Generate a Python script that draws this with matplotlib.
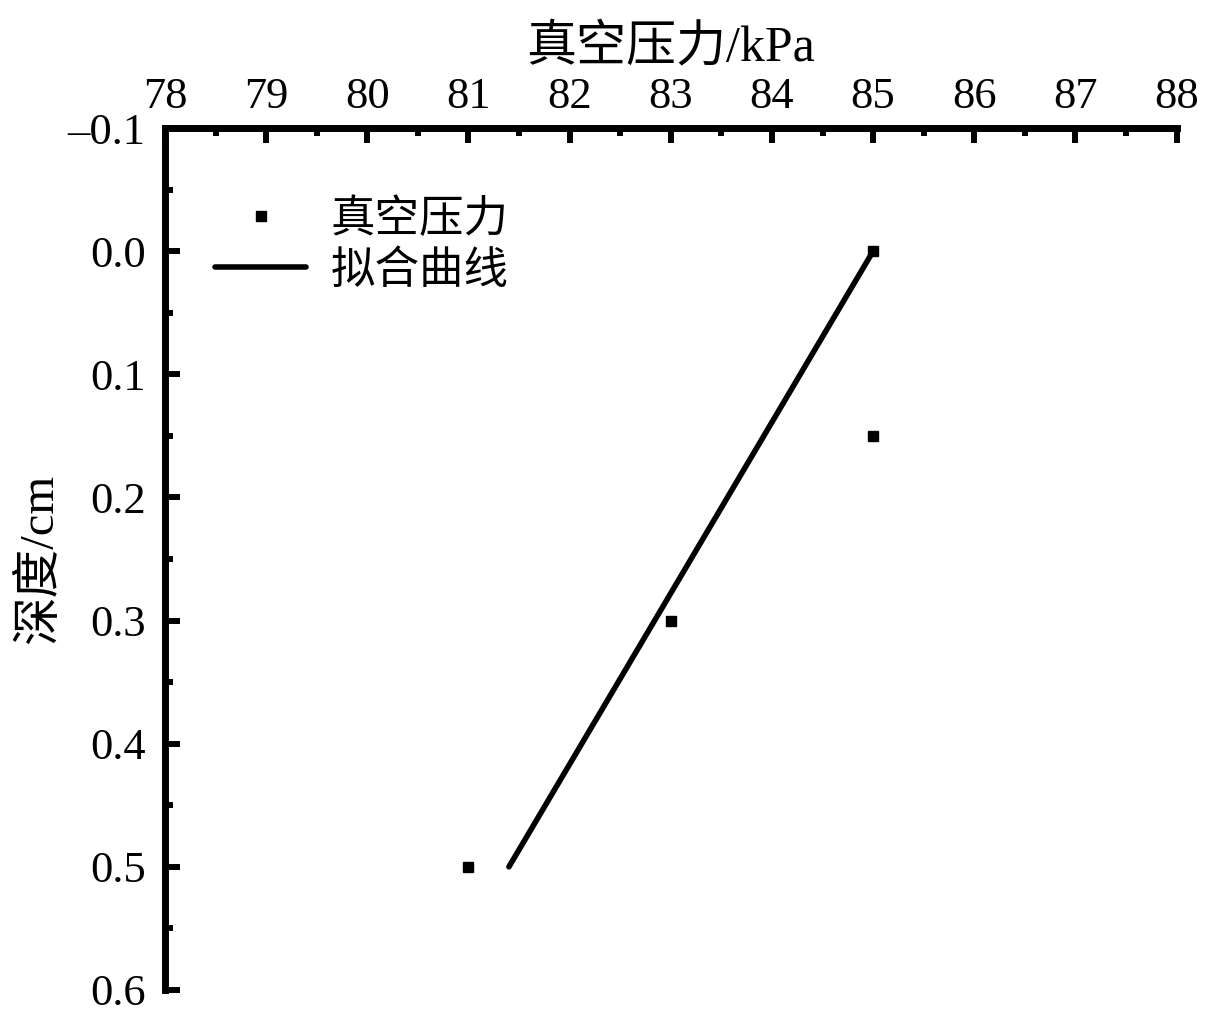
import numpy as np
import matplotlib
matplotlib.use("Agg")
import matplotlib.pyplot as plt
from matplotlib.ticker import MultipleLocator

plt.rcParams['font.family'] = ['Liberation Serif', 'Noto Sans CJK SC']
plt.rcParams['axes.unicode_minus'] = True

# measured points
pressure = [85, 85, 83, 81]
depth = [0.0, 0.15, 0.3, 0.5]

# fitted line end points
fit_pressure = [81.4, 85.0]
fit_depth = [0.5, 0.0]

fig = plt.figure(figsize=(12.13, 10.21), dpi=100)
ax = fig.add_axes([0.136, 0.0304, 0.834, 0.8442])

ax.plot(pressure, depth, 's', color='black', markersize=7, linestyle='none', label='真空压力')
ax.plot(fit_pressure, fit_depth, '-', color='black', linewidth=4,
        solid_capstyle='round', label='拟合曲线')

ax.set_xlim(78, 88)
ax.set_ylim(0.6, -0.1)
ax.xaxis.set_major_locator(MultipleLocator(1))
ax.xaxis.set_minor_locator(MultipleLocator(0.5))
ax.yaxis.set_major_locator(MultipleLocator(0.1))
ax.yaxis.set_minor_locator(MultipleLocator(0.05))
ax.yaxis.set_major_formatter(plt.FuncFormatter(
    lambda v, p: ('\u2013%.1f' % abs(v)) if v < -1e-9 else '%.1f' % abs(v)))

ax.xaxis.tick_top()
ax.xaxis.set_label_position('top')
ax.spines['right'].set_visible(False)
ax.spines['bottom'].set_visible(False)
ax.spines['top'].set_linewidth(5)
ax.spines['left'].set_linewidth(5)

ax.tick_params(which='major', direction='in', length=11, width=4.3, labelsize=32, pad=14)
ax.tick_params(which='minor', direction='in', length=6, width=4.3)
ax.tick_params(axis='x', which='both', top=True, bottom=False, pad=8)
ax.tick_params(axis='y', which='both', left=True, right=False)

ax.set_xlabel('真空压力/kPa', fontsize=36, labelpad=12)
ax.set_ylabel('深度/cm', fontsize=35, labelpad=4)

leg = ax.legend(loc='upper left', bbox_to_anchor=(0.032, 0.938), borderaxespad=0,
                frameon=False, fontsize=32, handlelength=2.05, handletextpad=0.55,
                labelspacing=0.2)

fig.savefig('out.png', dpi=100)
